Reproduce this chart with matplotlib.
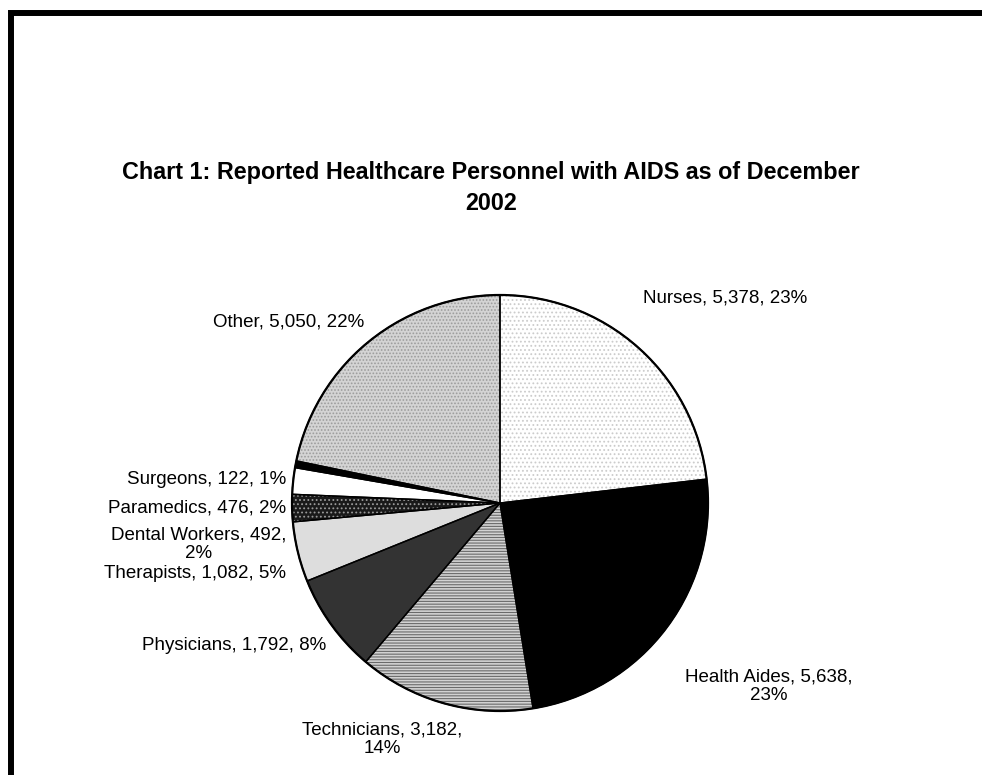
import numpy as np
import matplotlib
matplotlib.use("Agg")
import matplotlib.pyplot as plt
from matplotlib.patches import Rectangle

plt.rcParams['font.family'] = ['Liberation Sans', 'DejaVu Sans']
plt.rcParams['hatch.linewidth'] = 0.8

# datos del grafico
categorias = ['Nurses', 'Health Aides', 'Technicians', 'Physicians', 'Therapists',
              'Dental Workers', 'Paramedics', 'Surgeons', 'Other']
casos = [5378, 5638, 3182, 1792, 1082, 492, 476, 122, 5050]
porcentajes = [23, 23, 14, 8, 5, 2, 2, 1, 22]

# estilo de cada porcion
rellenos = ['white', 'black', '#d2d2d2', '#333333', '#dddddd',
            '#1a1a1a', 'white', 'black', '#d4d4d4']
tramas = ['....', None, '------', None, None, '....', None, None, '.....']
color_trama = ['#cccccc', 'black', '#6a6a6a', '#333333', '#dddddd',
               '#9a9a9a', 'white', 'black', '#9c9c9c']
# saltos de linea en las etiquetas (como en excel)
saltos = [False, True, True, False, False, True, False, False, False]
# donde puso excel cada etiqueta (pixeles desde arriba a la izquierda)
etiq_x = [643, 685, 462, 326, 286, 286, 286, 286, 364]
etiq_y = [298, 686, 739, 645, 573, 544, 508, 479, 322]
etiq_ha = ['left', 'left', 'right', 'right', 'right', 'right', 'right',
           'right', 'right']

ancho, alto = 982, 775
cx, cy, radio = 500, alto - 503, 208

fig = plt.figure(figsize=(ancho/100, alto/100), dpi=100)
ax = fig.add_axes([0, 0, 1, 1])

wedges, _ = ax.pie(casos, startangle=90, counterclock=False, center=(cx, cy),
                   radius=radio, colors=rellenos,
                   wedgeprops=dict(linewidth=0))
for w, h, c in zip(wedges, tramas, color_trama):
    if h is not None:
        w.set_hatch(h)
        w.set_edgecolor(c)

# contorno de las porciones
ax.pie(casos, startangle=90, counterclock=False, center=(cx, cy),
       radius=radio, colors=['none']*len(casos),
       wedgeprops=dict(linewidth=1.0, edgecolor='black'))
circ = plt.Circle((cx, cy), radio, fill=False, lw=1.6, color='black')
ax.add_patch(circ)

for i in range(len(casos)):
    if saltos[i]:
        txt = '{}, {:,},\n{}%'.format(categorias[i], casos[i], porcentajes[i])
    else:
        txt = '{}, {:,}, {}%'.format(categorias[i], casos[i], porcentajes[i])
    ax.text(etiq_x[i], alto - etiq_y[i], txt, ha=etiq_ha[i], va='center',
            fontsize=13.5, multialignment='center', linespacing=1.1)

ax.text(ancho/2, alto - 188,
        'Chart 1: Reported Healthcare Personnel with AIDS as of December\n2002',
        ha='center', va='center', fontsize=16.8, fontweight='bold',
        linespacing=1.4)

# marco recortado a la derecha y abajo
ax.add_patch(Rectangle((11, -100), 1200, alto - 12.5 + 100, fill=False,
                       lw=4.3, edgecolor='black'))

ax.set_xlim(0, ancho)
ax.set_ylim(0, alto)
ax.set_aspect('auto')
ax.axis('off')

fig.savefig('out.png', dpi=100)
